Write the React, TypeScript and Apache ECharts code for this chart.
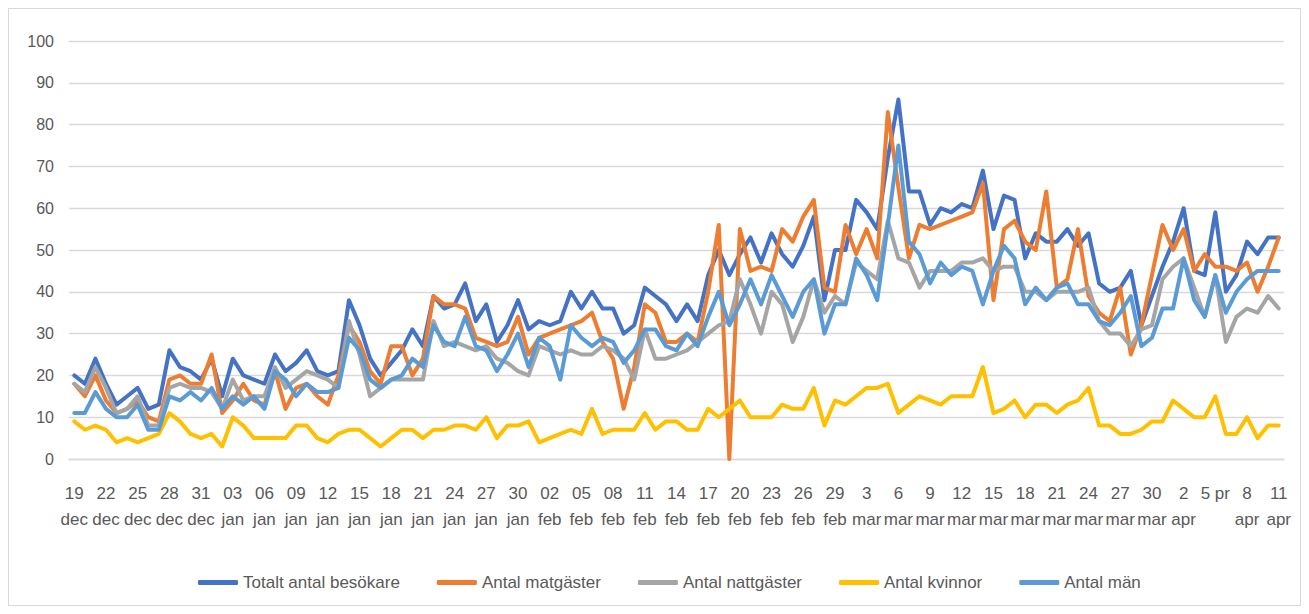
import React, { useEffect, useRef } from "react";
import * as echarts from "echarts";

const MONTH_NAMES = ["dec", "jan", "feb", "mar", "apr"];
const MONTH_FIRST_DAY = [19, 1, 1, 1, 1];
const MONTH_LAST_DAY = [31, 31, 29, 31, 11];

const CATEGORIES: string[] = [];
MONTH_NAMES.forEach((m, k) => {
  for (let d = MONTH_FIRST_DAY[k]; d <= MONTH_LAST_DAY[k]; d++) CATEGORIES.push(d + " " + m);
});

const TICK_DAYS = [
  "19", "22", "25", "28", "31",
  "03", "06", "09", "12", "15", "18", "21", "24", "27", "30",
  "02", "05", "08", "11", "14", "17", "20", "23", "26", "29",
  "3", "6", "9", "12", "15", "18", "21", "24", "27", "30",
  "2", "5 pr", "8", "11",
];
const TICK_MONTHS = [
  "dec", "dec", "dec", "dec", "dec",
  "jan", "jan", "jan", "jan", "jan", "jan", "jan", "jan", "jan", "jan",
  "feb", "feb", "feb", "feb", "feb", "feb", "feb", "feb", "feb", "feb",
  "mar", "mar", "mar", "mar", "mar", "mar", "mar", "mar", "mar", "mar",
  "apr", "", "apr", "apr",
];

const SERIES_NAMES = ["Totalt antal besökare", "Antal matgäster", "Antal nattgäster", "Antal kvinnor", "Antal män"];
const SERIES_COLORS = ["#4472C4", "#ED7D31", "#A5A5A5", "#FFC000", "#5B9BD5"];

const TOTALT = [
  20, 18, 24, 18, 13, 15, 17, 12, 13, 26, 22, 21, 19, 24, 15, 24, 20, 19, 18,
  25, 21, 23, 26, 21, 20, 21, 38, 32, 24, 20, 23, 26, 31, 27, 39, 36, 37, 42,
  33, 37, 28, 32, 38, 31, 33, 32, 33, 40, 36, 40, 36, 36, 30, 32, 41, 39, 37,
  33, 37, 33, 44, 50, 44, 49, 53, 47, 54, 49, 46, 51, 58, 38, 50, 50, 62, 59,
  55, 72, 86, 64, 64, 56, 60, 59, 61, 60, 69, 55, 63, 62, 48, 54, 52, 52, 55,
  51, 54, 42, 40, 41, 45, 32, 39, 46, 52, 60, 45, 44, 59, 40, 44, 52, 49, 53, 53,
];
const MATGASTER = [
  18, 15, 20, 14, 11, 12, 14, 10, 9, 19, 20, 18, 18, 25, 11, 14, 18, 14, 13,
  21, 12, 17, 18, 15, 13, 20, 32, 28, 21, 18, 27, 27, 20, 24, 39, 37, 37, 36,
  29, 28, 27, 28, 34, 25, 29, 30, 31, 32, 33, 35, 28, 24, 12, 22, 37, 35, 28,
  28, 30, 28, 40, 56, 0, 55, 45, 46, 45, 55, 52, 58, 62, 41, 40, 56, 49, 55,
  48, 83, 65, 48, 56, 55, 56, 57, 58, 59, 66, 38, 55, 57, 52, 50, 64, 41, 43,
  55, 39, 35, 33, 41, 25, 32, 44, 56, 50, 55, 45, 49, 46, 46, 45, 47, 40, 46, 53,
];
const NATTGASTER = [
  18, 16, 22, 17, 11, 12, 15, 8, 8, 17, 18, 17, 17, 16, 12, 19, 14, 15, 15,
  22, 17, 19, 21, 20, 19, 17, 33, 25, 15, 17, 19, 19, 19, 19, 33, 27, 28, 27,
  26, 27, 24, 23, 21, 20, 27, 26, 25, 26, 25, 25, 27, 26, 24, 19, 31, 24, 24,
  25, 26, 28, 30, 32, 33, 43, 37, 30, 40, 37, 28, 34, 43, 35, 39, 37, 47, 45,
  43, 57, 48, 47, 41, 45, 45, 45, 47, 47, 48, 45, 46, 46, 40, 40, 38, 40, 40,
  40, 41, 33, 30, 30, 27, 31, 32, 43, 46, 48, 41, 34, 44, 28, 34, 36, 35, 39, 36,
];
const KVINNOR = [
  9, 7, 8, 7, 4, 5, 4, 5, 6, 11, 9, 6, 5, 6, 3, 10, 8, 5, 5,
  5, 5, 8, 8, 5, 4, 6, 7, 7, 5, 3, 5, 7, 7, 5, 7, 7, 8, 8,
  7, 10, 5, 8, 8, 9, 4, 5, 6, 7, 6, 12, 6, 7, 7, 7, 11, 7, 9,
  9, 7, 7, 12, 10, 12, 14, 10, 10, 10, 13, 12, 12, 17, 8, 14, 13, 15, 17,
  17, 18, 11, 13, 15, 14, 13, 15, 15, 15, 22, 11, 12, 14, 10, 13, 13, 11, 13,
  14, 17, 8, 8, 6, 6, 7, 9, 9, 14, 12, 10, 10, 15, 6, 6, 10, 5, 8, 8,
];
const MAN = [
  11, 11, 16, 12, 10, 10, 13, 7, 7, 15, 14, 16, 14, 17, 12, 15, 13, 15, 12,
  21, 19, 15, 18, 16, 16, 17, 29, 26, 19, 17, 19, 20, 24, 22, 32, 28, 27, 34,
  27, 26, 21, 25, 30, 22, 29, 27, 19, 32, 29, 27, 29, 28, 23, 26, 31, 31, 27,
  26, 30, 27, 34, 40, 32, 37, 43, 37, 44, 39, 34, 40, 43, 30, 37, 37, 48, 44,
  38, 56, 75, 52, 49, 42, 47, 44, 46, 45, 37, 45, 51, 48, 37, 41, 38, 41, 42,
  37, 37, 33, 32, 35, 39, 27, 29, 36, 36, 48, 38, 34, 44, 35, 40, 43, 45, 45, 45,
];

const SERIES_DATA = [TOTALT, MATGASTER, NATTGASTER, KVINNOR, MAN];

const FONT = "'Liberation Sans', Arial, sans-serif";
const NARROW_FONT = "'Liberation Sans Narrow', 'Liberation Sans', Arial, sans-serif";
const TEXT_COLOR = "#595959";
const GRID_COLOR = "#d9d9d9";

export default function App() {
  const ref = useRef<HTMLDivElement>(null);

  useEffect(() => {
    if (!ref.current) return;
    const chart = echarts.init(ref.current, undefined, { renderer: "svg" });
    chart.setOption({
      animation: false,
      backgroundColor: "#ffffff",
      textStyle: { fontFamily: FONT },
      grid: { left: 60, right: 16, top: 32, bottom: 146, containLabel: false },
      legend: {
        data: SERIES_NAMES,
        left: 184,
        top: 560,
        itemWidth: 40,
        itemHeight: 5,
        itemGap: 37,
        icon: "roundRect",
        textStyle: { fontFamily: FONT, fontSize: 17, color: TEXT_COLOR },
      },
      xAxis: {
        type: "category",
        data: CATEGORIES,
        boundaryGap: true,
        axisLine: { show: true, lineStyle: { color: GRID_COLOR, width: 1.3 } },
        axisTick: { show: false },
        axisLabel: {
          interval: 2,
          margin: 21,
          color: TEXT_COLOR,
          fontFamily: NARROW_FONT,
          fontSize: 17,
          lineHeight: 26,
          formatter: (_v: string, i: number) => {
            const k = Math.round(i / 3);
            return TICK_MONTHS[k] ? TICK_DAYS[k] + "\n" + TICK_MONTHS[k] : TICK_DAYS[k] + "\n ";
          },
        },
        splitLine: { show: false },
      },
      yAxis: {
        type: "value",
        min: 0,
        max: 100,
        interval: 10,
        axisLine: { show: false },
        axisTick: { show: false },
        axisLabel: { color: TEXT_COLOR, fontFamily: FONT, fontSize: 16, margin: 15 },
        splitLine: { lineStyle: { color: GRID_COLOR, width: 1.3 } },
      },
      series: SERIES_NAMES.map((name, k) => ({
        name,
        type: "line",
        data: SERIES_DATA[k],
        symbol: "none",
        color: SERIES_COLORS[k],
        lineStyle: { width: 4, color: SERIES_COLORS[k], cap: "round", join: "round" },
        emphasis: { disabled: true },
      })),
    });
    return () => chart.dispose();
  }, []);

  return (
    <div
      ref={ref}
      style={{ width: 1293, height: 598, boxSizing: "border-box", border: "1px solid #d9d9d9" }}
    />
  );
}
